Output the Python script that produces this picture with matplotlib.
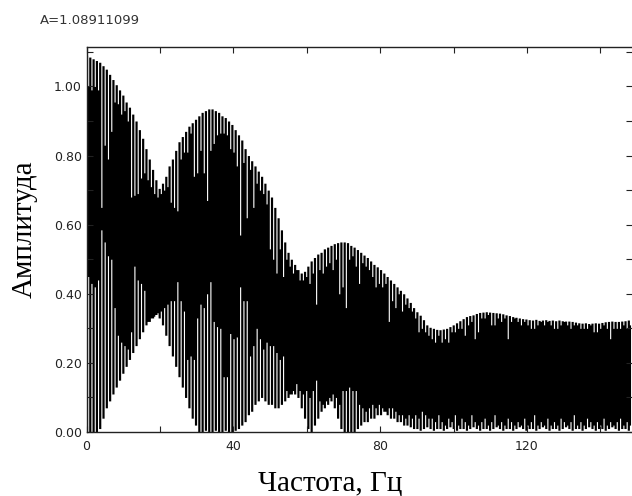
import matplotlib
matplotlib.use("Agg")
import matplotlib.pyplot as plt
from matplotlib.ticker import MultipleLocator, FormatStrFormatter
import numpy as np

# spectrum lines, one pair of columns every 0.9 Hz
step_hz = 0.9

# top of the wide columns (upper envelope)
upper = [1.09, 1.085, 1.08, 1.075, 1.07, 1.06, 1.05, 1.035, 1.02, 1.005,
         0.99, 0.975, 0.955, 0.94, 0.92, 0.90, 0.875, 0.85, 0.82, 0.79,
         0.76, 0.73, 0.705, 0.72, 0.74, 0.77, 0.79, 0.815, 0.84, 0.855,
         0.87, 0.885, 0.895, 0.905, 0.915, 0.925, 0.93, 0.935, 0.935, 0.93,
         0.925, 0.915, 0.91, 0.90, 0.89, 0.875, 0.86, 0.845, 0.82, 0.80,
         0.785, 0.77, 0.755, 0.74, 0.72, 0.70, 0.68, 0.65, 0.62, 0.585,
         0.55, 0.52, 0.50, 0.485, 0.47, 0.46, 0.465, 0.48, 0.495, 0.505,
         0.515, 0.52, 0.53, 0.535, 0.54, 0.545, 0.548, 0.55, 0.55, 0.548,
         0.54, 0.535, 0.528, 0.52, 0.512, 0.505, 0.495, 0.485, 0.478, 0.47,
         0.46, 0.45, 0.44, 0.43, 0.42, 0.41, 0.40, 0.388, 0.375, 0.36,
         0.348, 0.338, 0.325, 0.31, 0.303, 0.30, 0.297, 0.296, 0.298, 0.30,
         0.305, 0.31, 0.316, 0.322, 0.328, 0.334, 0.337, 0.339, 0.343, 0.346,
         0.347, 0.348, 0.347, 0.346, 0.345, 0.344, 0.342, 0.339, 0.337, 0.334,
         0.332, 0.33, 0.328, 0.327, 0.325, 0.324, 0.326, 0.323, 0.324, 0.325,
         0.323, 0.324, 0.322, 0.324, 0.322, 0.321, 0.321, 0.32, 0.318, 0.316,
         0.315, 0.316, 0.314, 0.315, 0.316, 0.315, 0.317, 0.319, 0.32, 0.321,
         0.32, 0.32, 0.321, 0.322, 0.324]

# bottom of the wide columns (lower envelope)
lower = [0.0, 0.0, 0.0, 0.0, 0.01, 0.04, 0.07, 0.09, 0.11, 0.13,
         0.15, 0.17, 0.19, 0.21, 0.23, 0.25, 0.27, 0.29, 0.31, 0.32,
         0.33, 0.34, 0.33, 0.31, 0.28, 0.25, 0.22, 0.19, 0.16, 0.13,
         0.10, 0.07, 0.04, 0.02, 0.0, 0.0, 0.005, 0.0, 0.0, 0.005,
         0.0, 0.0, 0.005, 0.0, 0.0, 0.005, 0.01, 0.02, 0.03, 0.05,
         0.06, 0.08, 0.09, 0.10, 0.09, 0.08, 0.08, 0.07, 0.07, 0.08,
         0.09, 0.10, 0.11, 0.11, 0.10, 0.07, 0.04, 0.01, 0.0, 0.02,
         0.04, 0.06, 0.07, 0.08, 0.09, 0.07, 0.04, 0.01, 0.0, 0.0,
         0.0, 0.0, 0.01, 0.02, 0.03, 0.03, 0.04, 0.04, 0.05, 0.05,
         0.06, 0.05, 0.04, 0.04, 0.03, 0.03, 0.02, 0.02, 0.015, 0.01,
         0.01, 0.005, 0.01, 0.015, 0.01, 0.005, 0.01, 0.01, 0.005, 0.01,
         0.015, 0.01, 0.005, 0.01, 0.01, 0.005, 0.01, 0.015, 0.01, 0.005,
         0.01, 0.01, 0.005, 0.01, 0.015, 0.01, 0.005, 0.01, 0.01, 0.005,
         0.01, 0.015, 0.01, 0.005, 0.01, 0.01, 0.005, 0.01, 0.015, 0.01,
         0.005, 0.01, 0.01, 0.005, 0.01, 0.015, 0.01, 0.005, 0.01, 0.01,
         0.005, 0.01, 0.015, 0.01, 0.005, 0.01, 0.01, 0.005, 0.01, 0.015,
         0.01, 0.005, 0.01, 0.01, 0.005]

# narrow columns in between: top and bottom
gap_top = [1.00, 0.99, 1.00, 0.99, 0.65, 0.83, 0.79, 0.87, 0.955, 0.95,
           0.92, 0.93, 0.90, 0.68, 0.685, 0.69, 0.735, 0.75, 0.73, 0.71,
           0.69, 0.68, 0.69, 0.70, 0.71, 0.665, 0.65, 0.64, 0.79, 0.81,
           0.81, 0.865, 0.74, 0.75, 0.815, 0.75, 0.67, 0.815, 0.835, 0.86,
           0.865, 0.865, 0.86, 0.82, 0.81, 0.77, 0.57, 0.78, 0.62, 0.76,
           0.65, 0.72, 0.70, 0.69, 0.66, 0.53, 0.50, 0.46, 0.53, 0.45,
           0.50, 0.48, 0.46, 0.47, 0.44, 0.44, 0.45, 0.43, 0.46, 0.37,
           0.47, 0.46, 0.48, 0.49, 0.47, 0.50, 0.40, 0.42, 0.36, 0.50,
           0.51, 0.48, 0.43, 0.49, 0.48, 0.47, 0.45, 0.42, 0.43, 0.42,
           0.43, 0.32, 0.38, 0.36, 0.40, 0.35, 0.37, 0.36, 0.35, 0.33,
           0.29, 0.30, 0.29, 0.28, 0.27, 0.26, 0.28, 0.26, 0.27, 0.26,
           0.29, 0.29, 0.30, 0.30, 0.28, 0.31, 0.32, 0.27, 0.29, 0.33,
           0.33, 0.34, 0.31, 0.31, 0.33, 0.32, 0.33, 0.27, 0.32, 0.33,
           0.32, 0.31, 0.32, 0.31, 0.30, 0.30, 0.31, 0.32, 0.31, 0.32,
           0.31, 0.30, 0.30, 0.31, 0.32, 0.31, 0.30, 0.31, 0.31, 0.30,
           0.30, 0.30, 0.31, 0.29, 0.29, 0.30, 0.31, 0.30, 0.27, 0.30,
           0.30, 0.30, 0.31, 0.30, 0.31]

gap_bottom = [0.45, 0.43, 0.42, 0.44, 0.585, 0.55, 0.51, 0.50, 0.36, 0.28,
              0.26, 0.25, 0.24, 0.29, 0.48, 0.44, 0.43, 0.41, 0.32, 0.33,
              0.335, 0.345, 0.35, 0.36, 0.37, 0.38, 0.38, 0.435, 0.38, 0.35,
              0.21, 0.22, 0.21, 0.33, 0.37, 0.36, 0.40, 0.435, 0.32, 0.305,
              0.30, 0.16, 0.16, 0.285, 0.27, 0.275, 0.42, 0.38, 0.38, 0.22,
              0.25, 0.30, 0.27, 0.24, 0.26, 0.25, 0.25, 0.23, 0.21, 0.22,
              0.12, 0.11, 0.12, 0.14, 0.12, 0.11, 0.12, 0.10, 0.12, 0.15,
              0.09, 0.08, 0.09, 0.10, 0.11, 0.10, 0.08, 0.12, 0.12, 0.13,
              0.12, 0.12, 0.08, 0.07, 0.06, 0.07, 0.08, 0.07, 0.08, 0.07,
              0.06, 0.07, 0.07, 0.06, 0.05, 0.05, 0.04, 0.05, 0.04, 0.05,
              0.04, 0.06, 0.05, 0.04, 0.04, 0.03, 0.05, 0.03, 0.02, 0.04,
              0.03, 0.05, 0.02, 0.04, 0.03, 0.02, 0.05, 0.03, 0.02, 0.03,
              0.04, 0.02, 0.03, 0.05, 0.02, 0.03, 0.02, 0.04, 0.03, 0.02,
              0.03, 0.02, 0.04, 0.02, 0.03, 0.05, 0.02, 0.03, 0.02, 0.04,
              0.02, 0.03, 0.02, 0.04, 0.03, 0.02, 0.03, 0.05, 0.02, 0.03,
              0.02, 0.04, 0.03, 0.02, 0.03, 0.02, 0.04, 0.02, 0.03, 0.02,
              0.03, 0.04, 0.02, 0.03, 0.02]

max_label = "A=1.08911099"

n = len(upper)
freq = np.arange(n) * step_hz
half = 0.33 * step_hz  # half width of the wide column

# interleave wide and narrow columns into one stepped band
edges = np.empty(2 * n + 1)
edges[0:-1:2] = freq - half
edges[1::2] = freq + half
edges[-1] = freq[-1] + step_hz - half
tops = np.empty(2 * n + 1)
tops[0:-1:2] = upper
tops[1::2] = gap_top
tops[-1] = gap_top[-1]
bottoms = np.empty(2 * n + 1)
bottoms[0:-1:2] = lower
bottoms[1::2] = gap_bottom
bottoms[-1] = gap_bottom[-1]

fig = plt.figure(figsize=(6.32, 4.96), dpi=100)
ax = fig.add_axes([86.5 / 632, 1 - 432 / 496, (632 - 86.5) / 632, (432 - 46.7) / 496])

ax.fill_between(edges, bottoms, tops, step="post", color="black", linewidth=0)

ax.set_xlim(0, 148.6)
ax.set_ylim(0, 1.115)

ax.xaxis.set_major_locator(MultipleLocator(40))
ax.xaxis.set_minor_locator(MultipleLocator(20))
ax.yaxis.set_major_locator(MultipleLocator(0.2))
ax.yaxis.set_minor_locator(MultipleLocator(0.1))
ax.yaxis.set_major_formatter(FormatStrFormatter("%.2f"))

for which in ("major", "minor"):
    ax.tick_params(axis="both", which=which, direction="in", length=4, width=0.8,
                   top=True, right=True, color="#222222")
ax.tick_params(axis="x", which="major", labelsize=9, pad=6)
ax.tick_params(axis="y", which="major", labelsize=9, pad=3.5)
for lbl in ax.get_xticklabels() + ax.get_yticklabels():
    lbl.set_family("DejaVu Sans")
    lbl.set_color("#222222")

for side in ("left", "bottom", "top"):
    ax.spines[side].set_linewidth(1.0)
    ax.spines[side].set_color("#222222")
ax.spines["right"].set_visible(False)

fig.text(40 / 632, 1 - 21 / 496, max_label, fontsize=9.5, family="DejaVu Sans",
         color="#333333", va="center", ha="left")
fig.text(330 / 632, 1 - 490 / 496, "Частота, Гц", fontsize=21, family="Liberation Serif",
         va="baseline", ha="center")
fig.text(25 / 632, 1 - 229 / 496, "Амплитуда", fontsize=21, family="Liberation Serif",
         rotation=90, va="center", ha="center")

fig.savefig("out.png", dpi=100)
